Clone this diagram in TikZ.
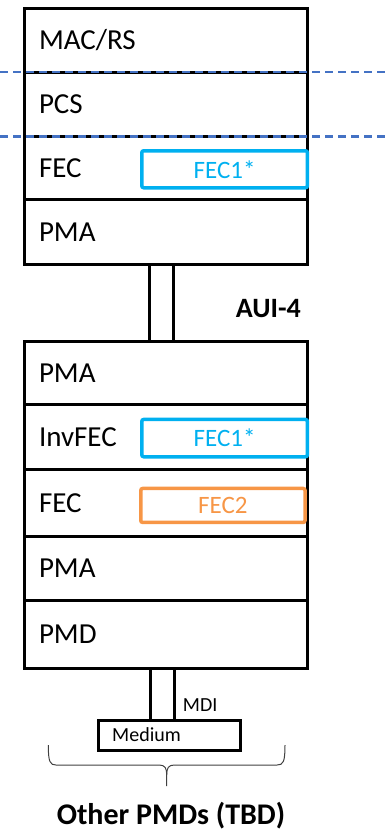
\documentclass[tikz,border=0pt]{standalone}
\usepackage{fontspec}
\setmainfont{Carlito}
\definecolor{dashblue}{HTML}{4472C4}
\definecolor{fecblue}{HTML}{00B0F0}
\definecolor{fecorange}{HTML}{F79646}
\begin{document}
\begin{tikzpicture}[x=1pt,y=-1pt,
  layer/.style={draw=black, line width=3pt, anchor=north west, minimum width=282.4pt,
    text width=254pt, inner xsep=14pt, inner ysep=0pt, align=left,
    font=\fontsize{29}{31}\selectfont},
  fecbox/.style={draw, line width=3.5pt, rounded corners=2pt, anchor=north west,
    inner sep=0pt, font=\fontsize{25}{27}\selectfont},
  link/.style={draw=black, line width=3pt, anchor=north west, inner sep=0pt},
  sep/.style={draw=dashblue, line width=2.8pt, dash pattern=on 8pt off 5pt},
  lbl/.style={inner sep=0pt, anchor=base west}]
\useasboundingbox (0,0) rectangle (389,830);
% upper stack
\node[layer, minimum height=64pt] (mac) at (23.3,6.7) {MAC/RS};
\node[layer, minimum height=64.6pt] (pcs) at (23.3,70.7) {PCS};
\node[layer, minimum height=63pt] (fec) at (23.3,135.3) {FEC};
\node[layer, minimum height=65pt] (pma1) at (23.3,198.3) {PMA};
\node[fecbox, draw=fecblue, text=fecblue, minimum width=165.7pt, minimum height=37pt] (f1a) at (140,149) {FEC1*};
% dashed lines
\coordinate (d1l) at (0,72); \coordinate (d1r) at (389,72);
\coordinate (d2l) at (0,136.7); \coordinate (d2r) at (389,136.7);
\draw[sep] (d1l) -- (d1r);
\draw[sep] (d2l) -- (d2r);
% AUI link
\node[link, minimum width=24pt, minimum height=76.7pt] (aui) at (147.7,263.3) {};
\node[inner sep=0pt, anchor=base east, font=\fontsize{28}{30}\selectfont\bfseries] (auil) at (301,317.7) {AUI-4};
% lower stack
\node[layer, minimum height=63pt] (pma2) at (23.3,340) {PMA};
\node[layer, minimum height=65.3pt] (inv) at (23.3,403) {InvFEC};
\node[layer, minimum height=66.7pt] (fec2) at (23.3,468.3) {FEC};
\node[layer, minimum height=64pt] (pma3) at (23.3,535) {PMA};
\node[layer, minimum height=67.7pt] (pmd) at (23.3,599) {PMD};
\node[fecbox, draw=fecblue, text=fecblue, minimum width=165.7pt, minimum height=37.3pt] (f1b) at (140,417.7) {FEC1*};
\node[fecbox, draw=fecorange, text=fecorange, minimum width=164.3pt, minimum height=34pt] (f2) at (139,486.7) {FEC2};
% MDI link and medium
\node[link, minimum width=24.3pt, minimum height=52.6pt] (mdi) at (149,666.7) {};
\node[lbl, font=\fontsize{20}{22}\selectfont] (mdil) at (182.7,711) {MDI};
\node[link, minimum width=141.7pt, minimum height=29.7pt] (med) at (97.3,719.3) {};
\node[lbl, font=\fontsize{20}{22}\selectfont] (medl) at (112,741) {Medium};
% brace
\draw[draw=black!75, line width=1pt]
  (48.3,745) .. controls (48.3,762) and (50,765) .. (56,765) -- (159,765)
  .. controls (165,765) and (166.7,768) .. (166.7,775) -- (166.7,786);
\draw[draw=black!75, line width=1pt]
  (166.7,775) .. controls (166.7,768) and (168.4,765) .. (174.4,765) -- (277,765)
  .. controls (283.3,765) and (285,762) .. (285,745);
\node[inner sep=0pt, anchor=base, font=\fontsize{30}{32}\selectfont\bfseries] (other) at (171,824) {Other PMDs (TBD)};
\end{tikzpicture}
\end{document}
